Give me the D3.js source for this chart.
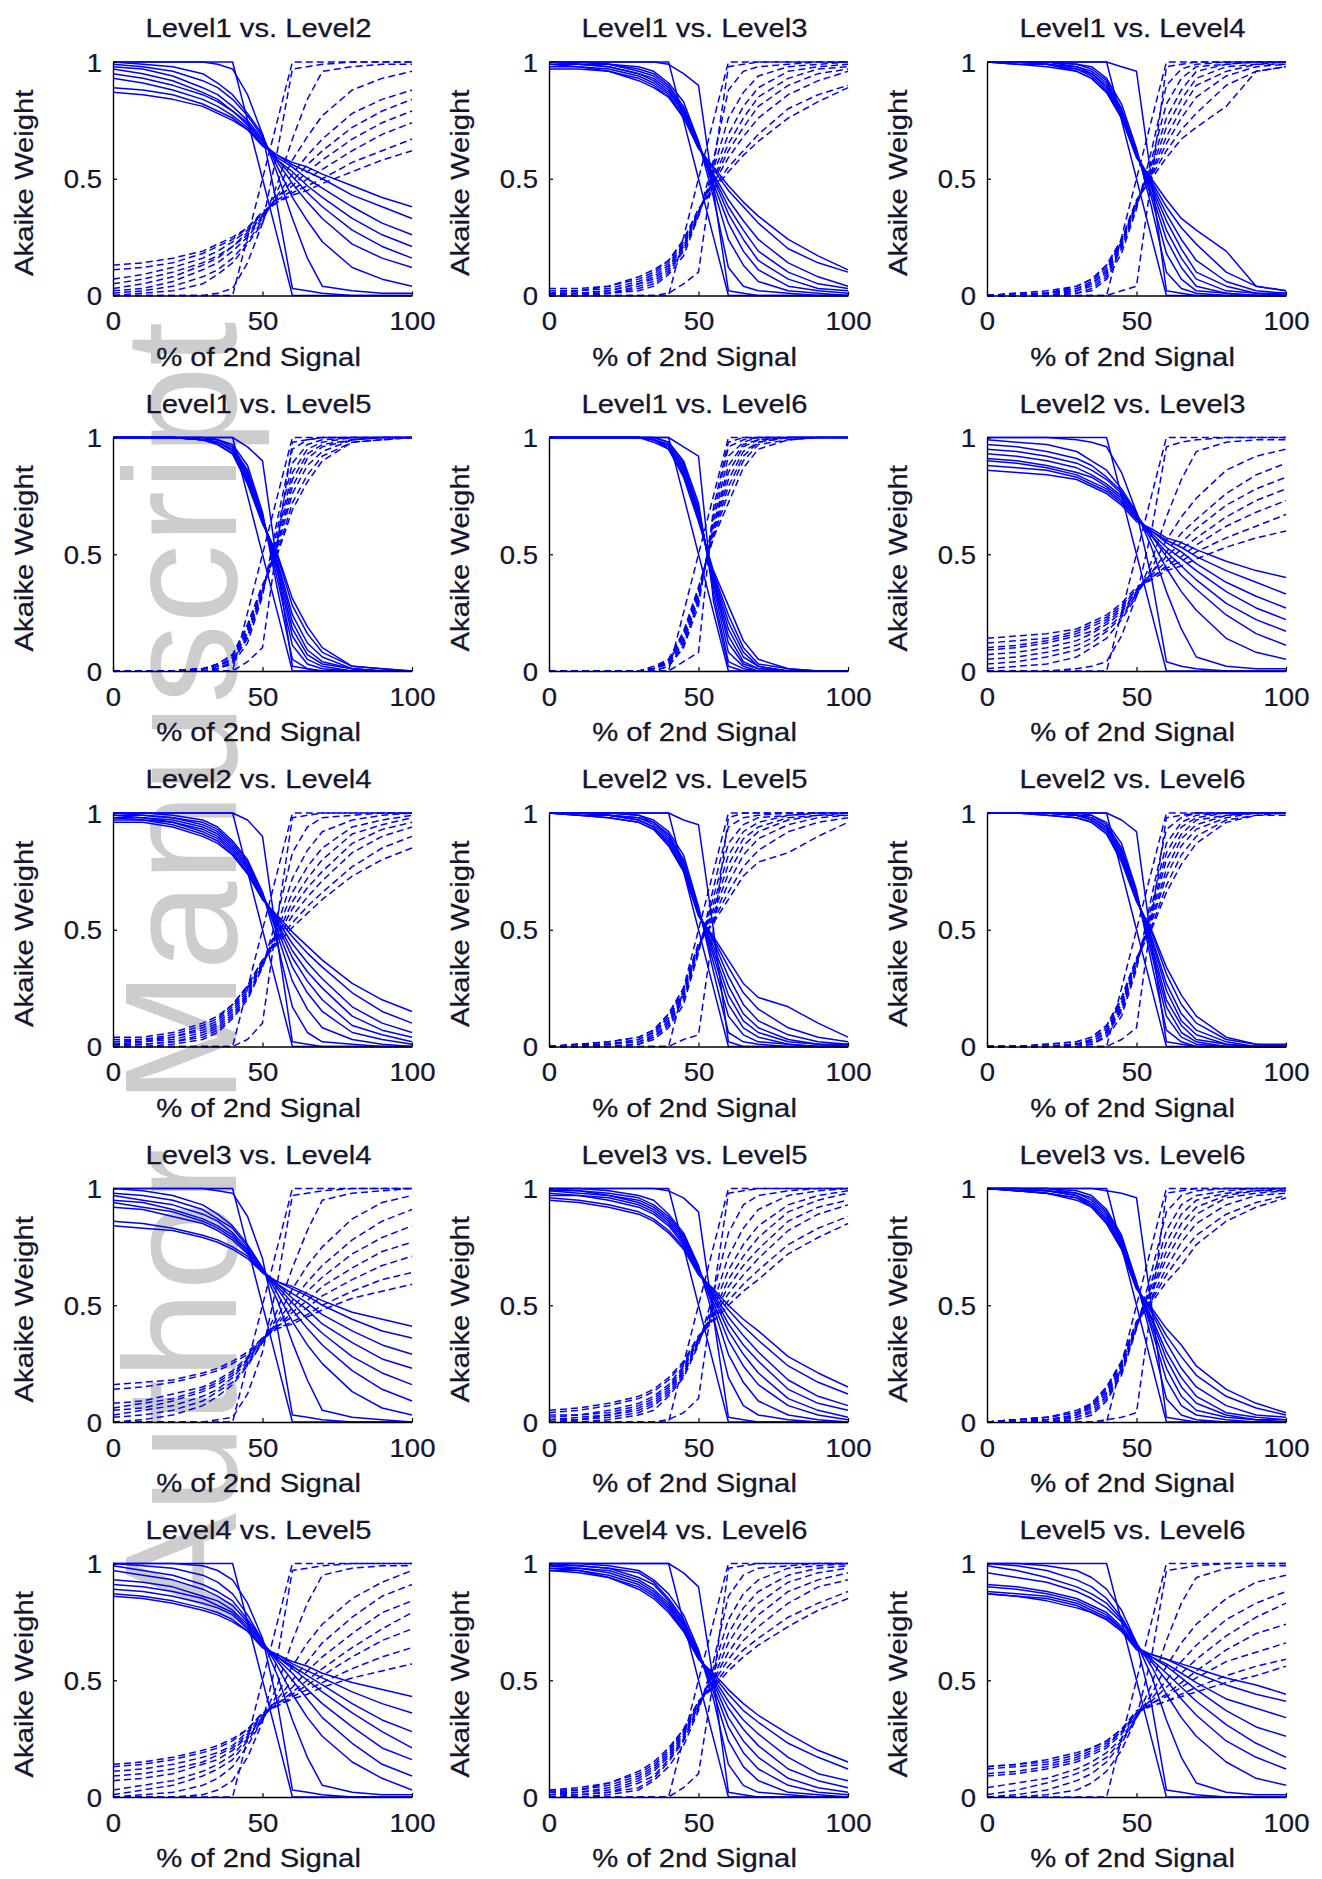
<!DOCTYPE html>
<html>
<head>
<meta charset="utf-8">
<script src="https://cdn.jsdelivr.net/npm/d3@7"></script>
<style>
  body { margin: 0; background: #fff; }
  svg { display: block; }
</style>
</head>
<body>
<svg id="fig" width="1322" height="1879"></svg>
<script>
// % of the 2nd signal in the mixture (x samples shared by every curve)
const pctSecond = [0, 10, 20, 30, 35, 40, 45, 50, 55, 60, 65, 70, 80, 90, 100];
const xTickValues = [0, 50, 100];
const yTickValues = [0, 0.5, 1];

const panelTitles = [
  "Level1 vs. Level2", "Level1 vs. Level3", "Level1 vs. Level4",
  "Level1 vs. Level5", "Level1 vs. Level6", "Level2 vs. Level3",
  "Level2 vs. Level4", "Level2 vs. Level5", "Level2 vs. Level6",
  "Level3 vs. Level4", "Level3 vs. Level5", "Level3 vs. Level6",
  "Level4 vs. Level5", "Level4 vs. Level6", "Level5 vs. Level6"
];

// Akaike weights (x100). "first" = model of the first level (solid),
// "second" = model of the second level (dashed). One row per run.
const first12 = [
  [100,100,100,100,100,100,75,50,25,0,0,0,0,0,0],
  [100,100,100,100,99,97,86,69,38,3,2,1,0,0,0],
  [100,99,98,95,91,86,78,69,52,33,16,4,2,1,1],
  [99,98,96,92,89,84,77,68,55,42,32,23,12,7,4],
  [98,97,94,89,86,81,75,67,57,48,40,33,22,16,12],
  [97,95,92,87,84,79,74,66,58,51,44,38,28,21,16],
  [95,93,90,86,83,79,73,66,58,53,47,42,33,26,21],
  [93,91,88,84,81,77,72,65,59,55,50,46,38,31,26],
  [89,88,86,82,79,76,71,65,60,56,53,50,43,38,33],
  [87,86,84,81,78,75,71,64,60,57,55,52,47,42,38]
];
const second12 = [
  [0,0,0,0,0,0,25,50,75,100,100,100,100,100,100],
  [0,0,0,0,1,3,14,31,62,97,98,99,100,100,100],
  [0,1,2,5,9,14,22,31,48,67,84,96,98,99,99],
  [1,2,4,8,11,16,23,32,45,58,68,77,88,93,96],
  [2,3,6,11,14,19,25,33,43,52,60,67,78,84,88],
  [3,5,8,13,16,21,26,34,42,49,56,62,72,79,84],
  [5,7,10,14,17,21,27,34,42,47,53,58,67,74,79],
  [7,9,12,16,19,23,28,35,41,45,50,54,62,69,74],
  [11,12,14,18,21,24,29,35,40,44,47,50,57,62,67],
  [13,14,16,19,22,25,29,36,40,43,45,48,53,58,62]
];

const first13 = [
  [100,100,100,100,100,100,75,50,25,0,0,0,0,0,0],
  [100,100,100,100,100,99,95,90,45,2,1,0,0,0,0],
  [100,100,99,98,96,91,83,66,42,12,4,2,1,0,0],
  [100,100,99,97,95,90,81,66,46,24,13,6,2,1,0],
  [100,99,99,96,94,89,80,65,48,31,19,11,4,2,1],
  [100,99,98,95,93,88,79,65,50,35,24,15,7,3,2],
  [99,99,98,95,92,87,79,64,51,38,28,19,10,5,3],
  [99,98,97,94,91,86,78,64,52,41,32,24,14,8,4],
  [98,98,96,93,90,85,77,63,54,45,38,31,20,14,10],
  [97,97,96,92,89,85,76,63,55,47,40,34,24,17,11]
];
const second13 = [
  [0,0,0,0,0,0,25,50,75,100,100,100,100,100,100],
  [0,0,0,0,0,1,5,10,55,98,99,100,100,100,100],
  [0,0,1,2,4,9,17,34,58,88,96,98,99,100,100],
  [0,0,1,3,5,10,19,34,54,76,87,94,98,99,100],
  [0,1,1,4,6,11,20,35,52,69,81,89,96,98,99],
  [0,1,2,5,7,12,21,35,50,65,76,85,93,97,98],
  [1,1,2,5,8,13,21,36,49,62,72,81,90,95,97],
  [1,2,3,6,9,14,22,36,48,59,68,76,86,92,96],
  [2,2,4,7,10,15,23,37,46,55,62,69,80,86,90],
  [3,3,4,8,11,15,24,37,45,53,60,66,76,83,89]
];

const first14 = [
  [100,100,100,100,100,100,75,50,25,0,0,0,0,0,0],
  [100,100,100,100,100,100,98,96,50,2,1,0,0,0,0],
  [100,100,100,99,98,93,82,63,38,10,3,1,0,0,0],
  [100,100,100,99,97,92,80,62,42,18,7,2,1,0,0],
  [100,100,100,98,96,91,79,61,44,24,12,4,1,0,0],
  [100,100,99,98,95,90,78,61,46,28,16,7,2,1,0],
  [100,100,99,97,95,89,77,60,47,32,20,10,4,1,1],
  [100,100,99,97,94,88,77,60,48,35,24,15,6,2,1],
  [100,99,99,96,93,87,76,60,49,38,29,22,10,4,2],
  [100,99,98,96,93,87,76,59,50,41,33,28,19,4,2]
];
const second14 = [
  [0,0,0,0,0,0,25,50,75,100,100,100,100,100,100],
  [0,0,0,0,0,0,2,4,50,98,99,100,100,100,100],
  [0,0,0,1,2,7,18,37,62,90,97,99,100,100,100],
  [0,0,0,1,3,8,20,38,58,82,93,98,99,100,100],
  [0,0,0,2,4,9,21,39,56,76,88,96,99,100,100],
  [0,0,1,2,5,10,22,39,54,72,84,93,98,99,100],
  [0,0,1,3,5,11,23,40,53,68,80,90,96,99,99],
  [0,0,1,3,6,12,23,40,52,65,76,85,94,98,99],
  [0,1,1,4,7,13,24,40,51,62,71,78,90,96,98],
  [0,1,2,4,7,13,24,41,50,59,67,72,81,96,98]
];

const first15 = [
  [100,100,100,100,100,100,75,50,25,0,0,0,0,0,0],
  [100,100,100,100,100,100,96,90,45,2,1,0,0,0,0],
  [100,100,100,100,99,97,88,68,35,5,1,0,0,0,0],
  [100,100,100,100,99,96,86,67,39,11,3,1,0,0,0],
  [100,100,100,99,99,96,85,66,42,15,5,2,0,0,0],
  [100,100,100,99,98,95,84,66,44,18,7,3,1,0,0],
  [100,100,100,99,98,95,83,65,46,21,9,4,1,0,0],
  [100,100,100,99,98,94,82,65,47,24,12,6,1,0,0],
  [100,100,100,99,97,93,81,64,49,28,16,8,2,1,0],
  [100,100,100,99,97,93,80,63,50,31,19,10,2,1,0]
];
const second15 = [
  [0,0,0,0,0,0,25,50,75,100,100,100,100,100,100],
  [0,0,0,0,0,0,4,10,55,98,99,100,100,100,100],
  [0,0,0,0,1,3,12,32,65,95,99,100,100,100,100],
  [0,0,0,0,1,4,14,33,61,89,97,99,100,100,100],
  [0,0,0,1,1,4,15,34,58,85,95,98,100,100,100],
  [0,0,0,1,2,5,16,34,56,82,93,97,99,100,100],
  [0,0,0,1,2,5,17,35,54,79,91,96,99,100,100],
  [0,0,0,1,2,6,18,35,53,76,88,94,99,100,100],
  [0,0,0,1,3,7,19,36,51,72,84,92,98,99,100],
  [0,0,0,1,3,7,20,37,50,69,81,90,98,99,100]
];

const first16 = [
  [100,100,100,100,100,100,75,50,25,0,0,0,0,0,0],
  [100,100,100,100,100,100,96,92,30,2,0,0,0,0,0],
  [100,100,100,100,100,98,90,72,33,4,1,0,0,0,0],
  [100,100,100,100,100,98,89,70,36,8,2,0,0,0,0],
  [100,100,100,100,99,97,88,69,38,12,3,1,0,0,0],
  [100,100,100,100,99,97,87,68,39,15,4,1,0,0,0],
  [100,100,100,100,99,96,86,67,40,18,6,2,0,0,0],
  [100,100,100,100,99,96,85,66,41,21,8,2,0,0,0],
  [100,100,100,100,99,95,84,65,42,24,10,3,1,0,0],
  [100,100,100,100,98,95,83,64,43,28,13,5,1,0,0]
];
const second16 = [
  [0,0,0,0,0,0,25,50,75,100,100,100,100,100,100],
  [0,0,0,0,0,0,4,8,70,98,100,100,100,100,100],
  [0,0,0,0,0,2,10,28,67,96,99,100,100,100,100],
  [0,0,0,0,0,2,11,30,64,92,98,100,100,100,100],
  [0,0,0,0,1,3,12,31,62,88,97,99,100,100,100],
  [0,0,0,0,1,3,13,32,61,85,96,99,100,100,100],
  [0,0,0,0,1,4,14,33,60,82,94,98,100,100,100],
  [0,0,0,0,1,4,15,34,59,79,92,98,100,100,100],
  [0,0,0,0,1,5,16,35,58,76,90,97,99,100,100],
  [0,0,0,0,2,5,17,36,57,72,87,95,99,100,100]
];

const first23 = [
  [100,100,100,100,100,100,75,50,25,0,0,0,0,0,0],
  [100,100,100,99,98,96,85,68,40,4,2,1,0,0,0],
  [99,98,97,94,90,86,78,68,53,34,18,6,2,1,1],
  [97,96,94,91,88,83,77,67,56,44,34,26,14,8,5],
  [95,94,92,89,86,82,76,67,58,49,41,35,24,16,11],
  [93,92,90,87,84,80,75,66,58,51,45,39,29,22,17],
  [91,90,88,85,83,79,74,66,59,53,48,43,34,27,22],
  [90,89,87,84,81,78,73,65,60,55,51,46,38,32,27],
  [88,87,86,83,80,77,72,65,60,56,53,49,43,38,33],
  [86,85,84,82,79,76,71,64,61,57,55,52,47,43,40]
];
const second23 = [
  [0,0,0,0,0,0,25,50,75,100,100,100,100,100,100],
  [0,0,0,1,2,4,15,32,60,96,98,99,100,100,100],
  [1,2,3,6,10,14,22,32,47,66,82,94,98,99,99],
  [3,4,6,9,12,17,23,33,44,56,66,74,86,92,95],
  [5,6,8,11,14,18,24,33,42,51,59,65,76,84,89],
  [7,8,10,13,16,20,25,34,42,49,55,61,71,78,83],
  [9,10,12,15,17,21,26,34,41,47,52,57,66,73,78],
  [10,11,13,16,19,22,27,35,40,45,49,54,62,68,73],
  [12,13,14,17,20,23,28,35,40,44,47,51,57,62,67],
  [14,15,16,18,21,24,29,36,39,43,45,48,53,57,60]
];

const first24 = [
  [100,100,100,100,100,100,75,50,25,0,0,0,0,0,0],
  [100,100,100,100,100,100,97,90,45,2,1,0,0,0,0],
  [100,100,99,97,94,88,80,66,44,17,6,2,1,0,0],
  [100,99,98,96,93,87,79,66,48,28,16,8,3,1,0],
  [99,99,98,95,92,86,78,65,50,34,23,15,6,3,1],
  [99,98,97,94,91,85,77,65,52,38,28,20,9,5,2],
  [98,98,96,93,90,84,76,64,53,41,32,25,13,7,4],
  [98,97,96,92,89,83,75,64,54,44,36,29,17,10,6],
  [97,97,95,91,88,82,74,63,55,47,40,34,23,15,10],
  [96,96,94,90,87,82,74,63,56,49,43,37,27,20,15]
];
const second24 = [
  [0,0,0,0,0,0,25,50,75,100,100,100,100,100,100],
  [0,0,0,0,0,0,3,10,55,98,99,100,100,100,100],
  [0,0,1,3,6,12,20,34,56,83,94,98,99,100,100],
  [0,1,2,4,7,13,21,34,52,72,84,92,97,99,100],
  [1,1,2,5,8,14,22,35,50,66,77,85,94,97,99],
  [1,2,3,6,9,15,23,35,48,62,72,80,91,95,98],
  [2,2,4,7,10,16,24,36,47,59,68,75,87,93,96],
  [2,3,4,8,11,17,25,36,46,56,64,71,83,90,94],
  [3,3,5,9,12,18,26,37,45,53,60,66,77,85,90],
  [4,4,6,10,13,18,26,37,44,51,57,63,73,80,85]
];

const first25 = [
  [100,100,100,100,100,100,75,50,25,0,0,0,0,0,0],
  [100,100,100,100,100,100,97,95,50,2,0,0,0,0,0],
  [100,100,100,99,97,92,82,60,32,6,2,1,0,0,0],
  [100,100,100,99,96,91,80,59,36,13,5,2,1,0,0],
  [100,100,99,98,96,90,79,58,39,18,8,4,1,0,0],
  [100,100,99,98,95,89,78,58,41,22,11,6,2,1,0],
  [100,100,99,97,94,88,77,57,43,26,14,8,3,1,1],
  [100,99,99,97,94,87,76,57,45,30,18,11,5,2,1],
  [100,99,98,96,93,86,75,56,46,34,23,16,8,4,2],
  [100,99,98,96,93,86,75,56,47,37,27,21,17,10,4]
];
const second25 = [
  [0,0,0,0,0,0,25,50,75,100,100,100,100,100,100],
  [0,0,0,0,0,0,3,5,50,98,100,100,100,100,100],
  [0,0,0,1,3,8,18,40,68,94,98,99,100,100,100],
  [0,0,0,1,4,9,20,41,64,87,95,98,99,100,100],
  [0,0,1,2,4,10,21,42,61,82,92,96,99,100,100],
  [0,0,1,2,5,11,22,42,59,78,89,94,98,99,100],
  [0,0,1,3,6,12,23,43,57,74,86,92,97,99,99],
  [0,1,1,3,6,13,24,43,55,70,82,89,95,98,99],
  [0,1,2,4,7,14,25,44,54,66,77,84,92,96,98],
  [0,1,2,4,7,14,25,44,53,63,73,79,83,90,96]
];

const first26 = [
  [100,100,100,100,100,100,75,50,25,0,0,0,0,0,0],
  [100,100,100,100,100,100,97,92,45,2,1,0,0,0,0],
  [100,100,100,100,99,96,87,67,36,7,2,0,0,0,0],
  [100,100,100,99,99,95,85,66,40,13,4,1,0,0,0],
  [100,100,100,99,98,94,84,65,42,17,6,2,0,0,0],
  [100,100,100,99,98,94,83,64,44,20,9,3,1,0,0],
  [100,100,100,99,97,93,82,64,46,24,11,5,1,0,0],
  [100,100,100,99,97,92,81,63,47,27,14,7,2,0,0],
  [100,100,99,98,96,91,80,63,49,31,18,10,3,1,0],
  [100,100,99,98,96,91,79,62,50,34,22,13,4,1,1]
];
const second26 = [
  [0,0,0,0,0,0,25,50,75,100,100,100,100,100,100],
  [0,0,0,0,0,0,3,8,55,98,99,100,100,100,100],
  [0,0,0,0,1,4,13,33,64,93,98,100,100,100,100],
  [0,0,0,1,1,5,15,34,60,87,96,99,100,100,100],
  [0,0,0,1,2,6,16,35,58,83,94,98,100,100,100],
  [0,0,0,1,2,6,17,36,56,80,91,97,99,100,100],
  [0,0,0,1,3,7,18,36,54,76,89,95,99,100,100],
  [0,0,0,1,3,8,19,37,53,73,86,93,98,100,100],
  [0,0,1,2,4,9,20,37,51,69,82,90,97,99,100],
  [0,0,1,2,4,9,21,38,50,66,78,87,96,99,99]
];

const first34 = [
  [100,100,100,100,100,100,75,50,25,0,0,0,0,0,0],
  [100,100,100,100,99,98,88,70,40,3,2,1,0,0,0],
  [100,99,97,93,89,84,76,66,52,34,18,5,2,1,0],
  [98,97,95,91,87,83,75,66,55,43,33,25,13,6,3],
  [97,95,93,89,86,81,74,65,57,48,40,33,22,14,9],
  [95,94,91,87,84,80,73,65,58,51,44,38,28,21,16],
  [94,92,90,86,83,79,73,65,59,53,48,42,34,27,23],
  [92,91,88,85,82,78,72,64,59,55,51,46,39,33,29],
  [86,85,83,80,78,75,71,64,60,57,54,50,44,39,36],
  [84,83,82,79,77,74,70,64,60,58,55,52,47,44,41]
];
const second34 = [
  [0,0,0,0,0,0,25,50,75,100,100,100,100,100,100],
  [0,0,0,0,1,2,12,30,60,97,98,99,100,100,100],
  [0,1,3,7,11,16,24,34,48,66,82,95,98,99,100],
  [2,3,5,9,13,17,25,34,45,57,67,75,87,94,97],
  [3,5,7,11,14,19,26,35,43,52,60,67,78,86,91],
  [5,6,9,13,16,20,27,35,42,49,56,62,72,79,84],
  [6,8,10,14,17,21,27,35,41,47,52,58,66,73,77],
  [8,9,12,15,18,22,28,36,41,45,49,54,61,67,71],
  [14,15,17,20,22,25,29,36,40,43,46,50,56,61,64],
  [16,17,18,21,23,26,30,36,40,42,45,48,53,56,59]
];

const first35 = [
  [100,100,100,100,100,100,75,50,25,0,0,0,0,0,0],
  [100,100,100,100,100,99,96,90,45,2,1,0,0,0,0],
  [100,100,99,97,95,89,81,67,45,19,7,3,1,0,0],
  [100,99,98,96,93,88,80,66,49,29,17,9,3,1,0],
  [99,99,97,95,92,87,79,66,51,35,24,16,7,3,1],
  [99,98,97,94,91,86,78,65,53,39,29,21,10,5,2],
  [98,97,96,93,90,85,77,65,54,42,33,26,14,8,5],
  [97,97,95,92,89,84,76,64,55,45,37,30,18,11,7],
  [96,95,93,90,87,82,75,64,56,48,41,35,24,17,12],
  [95,94,92,89,86,81,74,63,57,50,44,39,28,21,15]
];
const second35 = [
  [0,0,0,0,0,0,25,50,75,100,100,100,100,100,100],
  [0,0,0,0,0,1,4,10,55,98,99,100,100,100,100],
  [0,0,1,3,5,11,19,33,55,81,93,97,99,100,100],
  [0,1,2,4,7,12,20,34,51,71,83,91,97,99,100],
  [1,1,3,5,8,13,21,34,49,65,76,84,93,97,99],
  [1,2,3,6,9,14,22,35,47,61,71,79,90,95,98],
  [2,3,4,7,10,15,23,35,46,58,67,74,86,92,95],
  [3,3,5,8,11,16,24,36,45,55,63,70,82,89,93],
  [4,5,7,10,13,18,25,36,44,52,59,65,76,83,88],
  [5,6,8,11,14,19,26,37,43,50,56,61,72,79,85]
];

const first36 = [
  [100,100,100,100,100,100,75,50,25,0,0,0,0,0,0],
  [100,100,100,100,100,99,98,96,50,2,1,0,0,0,0],
  [100,100,100,99,97,91,80,60,36,10,3,1,0,0,0],
  [100,100,100,98,96,90,79,60,40,18,7,3,1,0,0],
  [100,100,99,98,95,89,78,59,42,23,11,5,2,1,0],
  [100,100,99,97,94,88,77,59,44,27,15,8,3,1,1],
  [100,99,99,97,93,87,76,58,45,30,19,11,4,2,1],
  [100,99,98,96,93,86,75,58,47,34,23,15,7,3,2],
  [100,99,98,96,92,85,74,57,48,37,28,20,11,6,3],
  [100,99,98,95,92,85,74,57,49,40,33,24,14,8,4]
];
const second36 = [
  [0,0,0,0,0,0,25,50,75,100,100,100,100,100,100],
  [0,0,0,0,0,1,2,4,50,98,99,100,100,100,100],
  [0,0,0,1,3,9,20,40,64,90,97,99,100,100,100],
  [0,0,0,2,4,10,21,40,60,82,93,97,99,100,100],
  [0,0,1,2,5,11,22,41,58,77,89,95,98,99,100],
  [0,0,1,3,6,12,23,41,56,73,85,92,97,99,99],
  [0,1,1,3,7,13,24,42,55,70,81,89,96,98,99],
  [0,1,2,4,7,14,25,42,53,66,77,85,93,97,98],
  [0,1,2,4,8,15,26,43,52,63,72,80,89,94,97],
  [0,1,2,5,8,15,26,43,51,60,67,76,86,92,96]
];

const first45 = [
  [100,100,100,100,100,100,75,50,25,0,0,0,0,0,0],
  [100,100,100,99,97,93,83,68,40,3,2,1,0,0,0],
  [100,99,98,95,92,87,78,67,52,33,17,5,2,1,1],
  [99,97,95,91,88,84,76,67,56,44,34,26,15,8,3],
  [97,95,93,89,86,82,75,66,58,50,42,34,23,14,9],
  [93,92,90,86,84,80,74,66,59,53,46,40,30,21,16],
  [91,90,88,85,82,79,73,65,60,55,50,45,36,28,21],
  [89,88,86,83,81,78,72,65,60,56,52,48,40,33,28],
  [87,86,84,81,79,76,71,64,61,57,54,51,45,40,36],
  [86,85,83,80,78,75,71,64,61,58,56,53,49,46,43]
];
const second45 = [
  [0,0,0,0,0,0,25,50,75,100,100,100,100,100,100],
  [0,0,0,1,3,7,17,32,60,97,98,99,100,100,100],
  [0,1,2,5,8,13,22,33,48,67,83,95,98,99,99],
  [1,3,5,9,12,16,24,33,44,56,66,74,85,92,97],
  [3,5,7,11,14,18,25,34,42,50,58,66,77,86,91],
  [7,8,10,14,16,20,26,34,41,47,54,60,70,79,84],
  [9,10,12,15,18,21,27,35,40,45,50,55,64,72,79],
  [11,12,14,17,19,22,28,35,40,44,48,52,60,67,72],
  [13,14,16,19,21,24,29,36,39,43,46,49,55,60,64],
  [14,15,17,20,22,25,29,36,39,42,44,47,51,54,57]
];

const first46 = [
  [100,100,100,100,100,100,75,50,25,0,0,0,0,0,0],
  [100,100,100,100,100,100,96,90,50,2,1,0,0,0,0],
  [100,100,99,97,93,87,78,63,42,14,5,2,1,0,0],
  [100,99,98,96,92,85,76,62,45,24,13,7,2,1,0],
  [99,99,98,94,91,84,75,61,47,30,19,12,5,2,1],
  [99,98,97,93,89,83,74,61,49,34,24,17,8,4,2],
  [98,98,96,92,88,82,73,60,50,38,29,22,12,7,4],
  [98,97,95,91,87,81,72,60,51,41,33,27,17,10,7],
  [97,97,94,90,86,80,71,59,52,44,37,32,23,17,12],
  [97,96,94,89,85,79,71,59,53,46,40,35,27,20,15]
];
const second46 = [
  [0,0,0,0,0,0,25,50,75,100,100,100,100,100,100],
  [0,0,0,0,0,0,4,10,50,98,99,100,100,100,100],
  [0,0,1,3,7,13,22,37,58,86,95,98,99,100,100],
  [0,1,2,4,8,15,24,38,55,76,87,93,98,99,100],
  [1,1,2,6,9,16,25,39,53,70,81,88,95,98,99],
  [1,2,3,7,11,17,26,39,51,66,76,83,92,96,98],
  [2,2,4,8,12,18,27,40,50,62,71,78,88,93,96],
  [2,3,5,9,13,19,28,40,49,59,67,73,83,90,93],
  [3,3,6,10,14,20,29,41,48,56,63,68,77,83,88],
  [3,4,6,11,15,21,29,41,47,54,60,65,73,80,85]
];

const first56 = [
  [100,100,100,100,100,100,75,50,25,0,0,0,0,0,0],
  [100,100,99,97,94,89,80,66,40,3,2,1,0,0,0],
  [100,99,97,93,90,85,77,66,52,33,17,6,2,1,1],
  [99,97,94,90,87,83,76,66,56,44,34,26,15,8,5],
  [96,94,92,88,85,81,75,65,58,50,42,35,24,17,12],
  [91,90,88,85,82,79,73,65,59,53,47,41,31,23,17],
  [90,89,87,84,81,78,72,64,60,56,51,46,37,30,26],
  [88,87,86,83,80,77,72,64,60,57,53,49,42,38,34],
  [87,86,85,82,79,76,71,64,61,59,56,53,48,44,41],
  [87,86,84,81,79,76,71,63,61,59,57,55,51,48,44]
];
const second56 = [
  [0,0,0,0,0,0,25,50,75,100,100,100,100,100,100],
  [0,0,1,3,6,11,20,34,60,97,98,99,100,100,100],
  [0,1,3,7,10,15,23,34,48,67,83,94,98,99,99],
  [1,3,6,10,13,17,24,34,44,56,66,74,85,92,95],
  [4,6,8,12,15,19,25,35,42,50,58,65,76,83,88],
  [9,10,12,15,18,21,27,35,41,47,53,59,69,77,83],
  [10,11,13,16,19,22,28,36,40,44,49,54,63,70,74],
  [12,13,14,17,20,23,28,36,40,43,47,51,58,62,66],
  [13,14,15,18,21,24,29,36,39,41,44,47,52,56,59],
  [13,14,16,19,21,24,29,37,39,41,43,45,49,52,56]
];

const firstWeights = [first12, first13, first14, first15, first16, first23, first24, first25,
                      first26, first34, first35, first36, first45, first46, first56];
const secondWeights = [second12, second13, second14, second15, second16, second23, second24, second25,
                       second26, second34, second35, second36, second45, second46, second56];

// ---- layout ----
const colLeft = [113, 549, 987];
const rowTop = [62, 437.5, 813, 1188.5, 1563.5];
const plotW = 299, plotH = 233.5;
const FONT = "'Liberation Sans', Arial, Helvetica, sans-serif";
const TEXT = "#151530";
const BLUE = "#0000ff";

const svg = d3.select("#fig");
svg.append("rect").attr("width", 1322).attr("height", 1879).attr("fill", "#fff");

// repository watermark running up the left side
svg.append("text")
  .attr("transform", "translate(236,1620) rotate(-90)")
  .attr("font-family", FONT)
  .attr("font-size", 160)
  .attr("fill", "#cdcdcd")
  .text("Author Manuscript");

function label(g, str, x, y, opts = {}) {
  const rot = opts.rotate ? ` rotate(${opts.rotate})` : "";
  return g.append("text")
    .attr("transform", `translate(${x},${y})${rot} scale(${opts.sx || 1.17},1)`)
    .attr("text-anchor", opts.anchor || "middle")
    .attr("font-family", FONT)
    .attr("font-size", 25)
    .attr("fill", TEXT)
    .attr("stroke", TEXT)
    .attr("stroke-width", 0.25)
    .text(str);
}

panelTitles.forEach((title, i) => {
  const L = colLeft[i % 3];
  const T = rowTop[Math.floor(i / 3)];
  const B = T + plotH;

  const x = d3.scaleLinear().domain([0, 100]).range([L, L + plotW]);
  const y = d3.scaleLinear().domain([0, 1]).range([B, T]);
  const line = d3.line()
    .x((d, j) => x(pctSecond[j]))
    .y(d => y(d / 100));

  const g = svg.append("g");

  g.selectAll("path.first")
    .data(firstWeights[i])
    .join("path")
    .attr("class", "first")
    .attr("d", line)
    .attr("fill", "none")
    .attr("stroke", BLUE)
    .attr("stroke-width", 1.5)
    .attr("stroke-linejoin", "round");

  g.selectAll("path.second")
    .data(secondWeights[i])
    .join("path")
    .attr("class", "second")
    .attr("d", line)
    .attr("fill", "none")
    .attr("stroke", BLUE)
    .attr("stroke-width", 1.5)
    .attr("stroke-dasharray", "7,4");

  // axes: left and bottom only, inward ticks
  const xAxis = g.append("g")
    .attr("transform", `translate(0,${B})`)
    .call(d3.axisBottom(x).tickValues(xTickValues).tickSizeInner(-4).tickSizeOuter(0).tickPadding(17));
  const yAxis = g.append("g")
    .attr("transform", `translate(${L},0)`)
    .call(d3.axisLeft(y).tickValues(yTickValues).tickSizeInner(-4).tickSizeOuter(0).tickPadding(10)
      .tickFormat(d => d === 0.5 ? "0.5" : d3.format("d")(d)));

  [xAxis, yAxis].forEach(ax => {
    ax.select(".domain").attr("stroke", "#000").attr("stroke-width", 1.4);
    ax.selectAll(".tick line").attr("stroke", "#000").attr("stroke-width", 1.2);
    ax.selectAll("text")
      .attr("font-family", FONT)
      .attr("font-size", 25)
      .attr("fill", TEXT)
      .attr("stroke", TEXT)
      .attr("stroke-width", 0.25)
      .attr("transform", "scale(1.1,1)");
  });
  yAxis.selectAll("text").attr("dy", "0.36em");

  label(g, title, L + plotW / 2 - 4, T - 25);
  label(g, "% of 2nd Signal", L + plotW / 2 - 4, B + 70);
  label(g, "Akaike Weight", L - 80, T + plotH / 2 + 4, { rotate: -90 });
});
</script>
</body>
</html>
